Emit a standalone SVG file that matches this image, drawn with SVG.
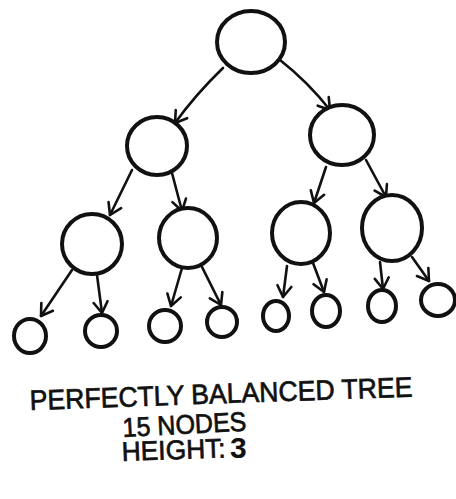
<svg xmlns="http://www.w3.org/2000/svg" width="456" height="499" viewBox="0 0 456 499">
<style>
.node{fill:#fff;stroke:#111;stroke-width:4}
.edge{fill:none;stroke:#111;stroke-width:2.6;stroke-linecap:round;marker-end:url(#arr)}
.lbl{font-family:"Liberation Sans",Arial,sans-serif;fill:#111;stroke:#111;stroke-width:0.7}
</style>
<defs>
<marker id="arr" markerUnits="userSpaceOnUse" markerWidth="30" markerHeight="30" refX="0" refY="0" viewBox="-15 -15 30 30" orient="auto" overflow="visible">
<path d="M-11,-7 L0,0 L-11,7" fill="none" stroke="#111" stroke-width="2.6" stroke-linecap="round" stroke-linejoin="round"/>
</marker>
</defs>
<rect width="456" height="499" fill="#fff"/>
<g id="connectors">
<path class="edge" d="M223,68 Q196,94 175,123"/>
<path class="edge" d="M280,60 Q308,82 330,110"/>
<path class="edge" d="M132,170 L110,215"/>
<path class="edge" d="M172,173 L182,211"/>
<path class="edge" d="M326,167 L314,203"/>
<path class="edge" d="M366,160 L386,197"/>
<path class="edge" d="M72,270 L41,316"/>
<path class="edge" d="M97,275 L102,313"/>
<path class="edge" d="M182,268 L171,306"/>
<path class="edge" d="M202,267 L221,305"/>
<path class="edge" d="M287,266 L283,297"/>
<path class="edge" d="M313,263 L324,292"/>
<path class="edge" d="M380,262 L383,289"/>
<path class="edge" d="M412,257 L429,281"/>
</g>
<g id="n1"><ellipse class="node" cx="251" cy="42" rx="34" ry="31"/></g>
<g id="n2"><ellipse class="node" cx="157" cy="146" rx="30" ry="29"/></g>
<g id="n3"><ellipse class="node" cx="342" cy="135" rx="32" ry="30"/></g>
<g id="n4"><ellipse class="node" cx="92" cy="244" rx="30" ry="30"/></g>
<g id="n5"><ellipse class="node" cx="188" cy="238" rx="29" ry="30"/></g>
<g id="n6"><ellipse class="node" cx="301" cy="233" rx="29" ry="31"/></g>
<g id="n7"><ellipse class="node" cx="392" cy="228" rx="30" ry="33"/></g>
<g id="n8"><ellipse class="node" cx="30" cy="336" rx="16" ry="17"/></g>
<g id="n9"><ellipse class="node" cx="101" cy="331" rx="16" ry="16"/></g>
<g id="n10"><ellipse class="node" cx="165" cy="326" rx="16" ry="16"/></g>
<g id="n11"><ellipse class="node" cx="222" cy="322" rx="15" ry="15"/></g>
<g id="n12"><ellipse class="node" cx="276" cy="316" rx="13" ry="15"/></g>
<g id="n13"><ellipse class="node" cx="326" cy="311" rx="14" ry="16"/></g>
<g id="n14"><ellipse class="node" cx="382" cy="306" rx="14" ry="16"/></g>
<g id="n15"><ellipse class="node" cx="438" cy="300" rx="17" ry="16"/></g>
<g id="labels">
<text class="lbl" x="30" y="410" font-size="28" textLength="383" lengthAdjust="spacingAndGlyphs" transform="rotate(-2 30 410)">PERFECTLY  BALANCED TREE</text>
<text class="lbl" x="123" y="437" font-size="27" textLength="124" lengthAdjust="spacingAndGlyphs" transform="rotate(-3 123 437)">15 NODES</text>
<text class="lbl" x="122" y="461" font-size="27" textLength="104" lengthAdjust="spacingAndGlyphs" transform="rotate(-2 122 461)">HEIGHT:</text>
<text x="230" y="458" font-size="30" font-weight="bold" font-family="Liberation Sans, Arial, sans-serif" fill="#111">3</text>
</g>
</svg>
